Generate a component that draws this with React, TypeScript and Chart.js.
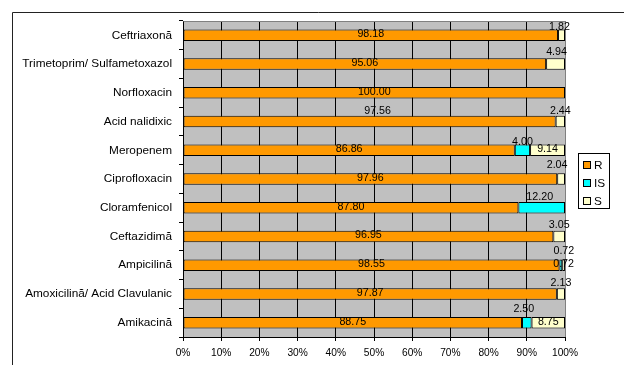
import React, { useEffect, useRef } from "react";
import { Chart, registerables } from "chart.js";

Chart.register(...registerables);

const categories = [
  "Ceftriaxonă",
  "Trimetoprim/ Sulfametoxazol",
  "Norfloxacin",
  "Acid nalidixic",
  "Meropenem",
  "Ciprofloxacin",
  "Cloramfenicol",
  "Ceftazidimă",
  "Ampicilină",
  "Amoxicilină/ Acid Clavulanic",
  "Amikacină",
];

const seriesR = [98.18, 95.06, 100.0, 97.56, 86.86, 97.96, 87.8, 96.95, 98.55, 97.87, 88.75];
const seriesIS = [0, 0, 0, 0, 4.0, 0, 12.2, 0, 0.72, 0, 2.5];
const seriesS = [1.82, 4.94, 0, 2.44, 9.14, 2.04, 0, 3.05, 0.72, 2.13, 8.75];

const seriesNames = ["R", "IS", "S"];
const seriesColors = ["#FF9900", "#00FFFF", "#FFFFCC"];
const xTicks = [0, 10, 20, 30, 40, 50, 60, 70, 80, 90, 100];

// label nudges (style only): key "datasetIndex:categoryIndex" -> [dx, dy]
const labelNudges: Record<string, [number, number]> = {
  "2:0": [-2, -8],
  "2:1": [1, -12],
  "0:3": [8, -10],
  "2:3": [0, -10],
  "1:4": [0, -8],
  "2:5": [-4, -14],
  "1:6": [-2, -11],
  "2:7": [0, -11],
  "1:8": [3, -14],
  "2:8": [0, -1],
  "2:9": [0, -11],
  "1:10": [-3, -14],
};

const FONT = "'Liberation Sans', Arial, sans-serif";

const decorPlugin = {
  id: "decor",
  beforeDraw(chart: any) {
    const { ctx, chartArea: a } = chart;
    ctx.save();
    ctx.fillStyle = "#C0C0C0";
    ctx.fillRect(a.left, a.top, a.right - a.left, a.bottom - a.top);
    ctx.restore();
  },
  afterDraw(chart: any) {
    const { ctx, chartArea: a } = chart;
    ctx.save();
    ctx.strokeStyle = "#808080";
    ctx.lineWidth = 1;
    ctx.beginPath();
    ctx.moveTo(Math.round(a.left) + 0.5, Math.round(a.top) + 0.5);
    ctx.lineTo(Math.round(a.right) + 0.5, Math.round(a.top) + 0.5);
    ctx.stroke();
    ctx.strokeStyle = "#222";
    ctx.beginPath();
    ctx.moveTo(12.5, 365);
    ctx.lineTo(12.5, 12.5);
    ctx.lineTo(624, 12.5);
    ctx.stroke();
    const lx = 578.5, ly = 153.5, lw = 31, lh = 55;
    ctx.fillStyle = "#FFFFFF";
    ctx.fillRect(lx, ly, lw, lh);
    ctx.strokeStyle = "#000";
    ctx.strokeRect(lx, ly, lw, lh);
    ctx.font = `11.8px ${FONT}`;
    ctx.textBaseline = "middle";
    ctx.textAlign = "left";
    chart.data.datasets.forEach((ds: any, i: number) => {
      const sy = 160.5 + i * 18.3;
      ctx.fillStyle = ds.backgroundColor;
      ctx.fillRect(583.5, Math.round(sy) + 0.5, 7, 7);
      ctx.strokeStyle = "#000";
      ctx.strokeRect(583.5, Math.round(sy) + 0.5, 7, 7);
      ctx.fillStyle = "#000";
      ctx.fillText(ds.label, 594, Math.round(sy) + 4.5);
    });
    ctx.restore();
  },
  afterDatasetsDraw(chart: any) {
    const { ctx } = chart;
    ctx.save();
    ctx.font = `10.7px ${FONT}`;
    ctx.fillStyle = "#000";
    ctx.textAlign = "center";
    ctx.textBaseline = "middle";
    chart.data.datasets.forEach((ds: any, di: number) => {
      const meta = chart.getDatasetMeta(di);
      meta.data.forEach((el: any, ci: number) => {
        const v = ds.data[ci];
        if (!v) return;
        const nudge = labelNudges[`${di}:${ci}`] || [0, -1];
        const cx = (el.x + el.base) / 2 + nudge[0];
        const cy = el.y + nudge[1];
        ctx.fillText(v.toFixed(2), cx, cy);
      });
    });
    ctx.restore();
  },
};

export default function App() {
  const ref = useRef<HTMLCanvasElement>(null);
  useEffect(() => {
    if (!ref.current) return;
    const data = [seriesR, seriesIS, seriesS];
    const chart = new Chart(ref.current, {
      type: "bar",
      data: {
        labels: categories,
        datasets: data.map((d, i) => ({
          label: seriesNames[i],
          data: d,
          backgroundColor: seriesColors[i],
          borderColor: "#000000",
          borderWidth: 1,
          borderSkipped: false,
          barPercentage: 0.4,
          categoryPercentage: 1,
        })),
      },
      options: {
        indexAxis: "y",
        animation: false,
        responsive: false,
        maintainAspectRatio: false,
        layout: { padding: { left: 0, right: 59, top: 21, bottom: 0 } },
        plugins: { legend: { display: false }, tooltip: { enabled: false } },
        scales: {
          x: {
            stacked: true,
            min: 0,
            max: 100,
            afterBuildTicks: (scale: any) => {
              scale.ticks = xTicks.map((v) => ({ value: v }));
            },
            afterFit: (scale: any) => {
              scale.height = 28;
            },
            ticks: {
              callback: (v: any) => `${v}%`,
              color: "#000",
              font: { family: FONT, size: 10.2 },
              padding: 6,
              maxRotation: 0,
              autoSkip: false,
            },
            grid: {
              color: (c: any) => (c.tick && c.tick.value === 100 ? "#808080" : "#000000"),
              tickColor: "#000000",
              tickLength: 4,
              lineWidth: 1,
            },
            border: { color: "#000000", width: 1 },
          },
          y: {
            stacked: true,
            afterFit: (scale: any) => {
              scale.width = 183;
            },
            ticks: {
              color: "#000",
              font: { family: FONT, size: 11.8 },
              padding: 7,
              autoSkip: false,
            },
            grid: {
              drawOnChartArea: false,
              offset: true,
              tickLength: 4,
              color: "#000000",
            },
            border: { color: "#000000", width: 1 },
          },
        },
      },
      plugins: [decorPlugin],
    });
    return () => chart.destroy();
  }, []);
  return (
    <div style={{ position: "absolute", left: 0, top: 0, width: 624, height: 365, background: "#fff" }}>
      <canvas ref={ref} width={624} height={365} style={{ width: 624, height: 365, display: "block" }} />
    </div>
  );
}
